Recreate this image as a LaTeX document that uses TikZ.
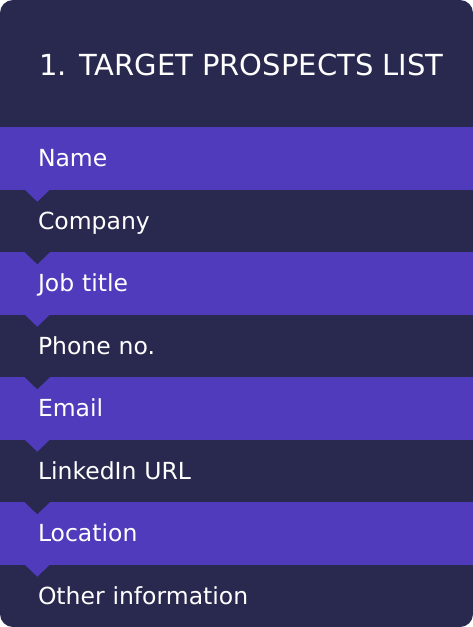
\documentclass[tikz,border=0pt]{standalone}
\usepackage{fontspec}
\setmainfont{DejaVu Sans}
\usepackage{tikz}
\usetikzlibrary{positioning}
\usepackage{xcolor}
\definecolor{navy}{RGB}{41,41,79}
\definecolor{bandpurple}{RGB}{79,59,187}

\begin{document}
\begin{tikzpicture}[x=1pt,y=-1pt,node distance=62.5pt,on grid,
	band/.style={rectangle,minimum width=473pt,minimum height=62.5pt,inner sep=0pt,
		text width=397pt,align=left,text height=17pt,text depth=0pt,text=white,
		font=\fontsize{23.5}{28}\selectfont},
	purpleband/.style={band,fill=bandpurple},
	navyband/.style={band}]
			\useasboundingbox (0,0) rectangle (473,627);
			\fill[navy,rounded corners=13pt] (0,0) rectangle (473,627);

			\node[anchor=base west,text=white,inner sep=0pt,font=\fontsize{29}{34}\selectfont]
				(title) at (39,75) {1. TARGET PROSPECTS LIST};

			\node[purpleband]          (name)     at (236.5,158.25) {Name};
			\node[navyband]            (company)  [below =of name]     {Company};
			\node[purpleband]          (jobtitle) [below =of company]  {Job title};
			\node[navyband]            (phone)    [below =of jobtitle] {Phone no.};
			\node[purpleband]          (email)    [below =of phone]    {Email};
			\node[navyband]            (linkedin) [below =of email]    {LinkedIn URL};
			\node[purpleband]          (location) [below =of linkedin] {Location};
			\node[navyband]            (other)    [below =of location] {Other information};

			% pointers
			\fill[bandpurple] ([xshift=25pt]name.south west) -- ([xshift=50pt]name.south west) -- ([xshift=37.5pt,yshift=-12pt]name.south west) -- cycle;
			\fill[navy] ([xshift=25pt]company.south west) -- ([xshift=50pt]company.south west) -- ([xshift=37.5pt,yshift=-12pt]company.south west) -- cycle;
			\fill[bandpurple] ([xshift=25pt]jobtitle.south west) -- ([xshift=50pt]jobtitle.south west) -- ([xshift=37.5pt,yshift=-12pt]jobtitle.south west) -- cycle;
			\fill[navy] ([xshift=25pt]phone.south west) -- ([xshift=50pt]phone.south west) -- ([xshift=37.5pt,yshift=-12pt]phone.south west) -- cycle;
			\fill[bandpurple] ([xshift=25pt]email.south west) -- ([xshift=50pt]email.south west) -- ([xshift=37.5pt,yshift=-12pt]email.south west) -- cycle;
			\fill[navy] ([xshift=25pt]linkedin.south west) -- ([xshift=50pt]linkedin.south west) -- ([xshift=37.5pt,yshift=-12pt]linkedin.south west) -- cycle;
			\fill[bandpurple] ([xshift=25pt]location.south west) -- ([xshift=50pt]location.south west) -- ([xshift=37.5pt,yshift=-12pt]location.south west) -- cycle;
		\end{tikzpicture}
\end{document}
